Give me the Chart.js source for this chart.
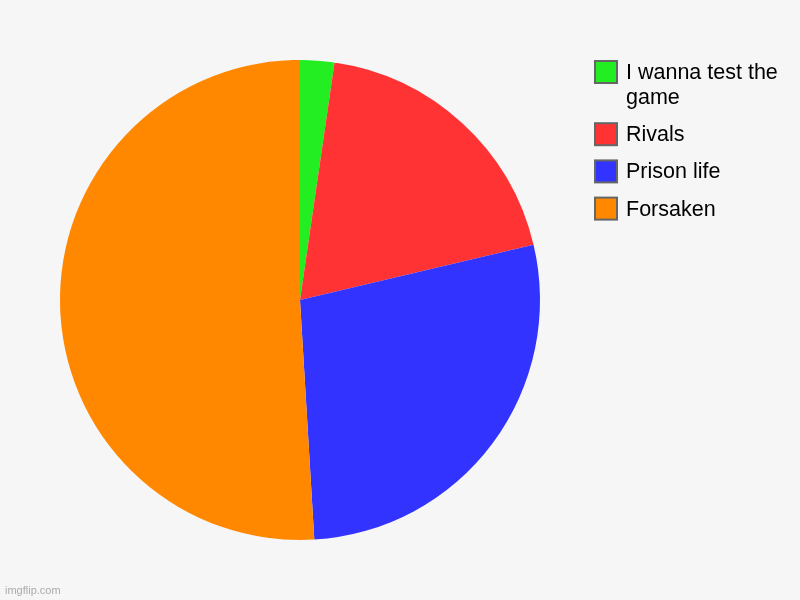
<!DOCTYPE html>
<html>
<head>
<meta charset="utf-8">
<script src="https://cdn.jsdelivr.net/npm/chart.js@4"></script>
<style>
  html, body { margin: 0; padding: 0; background: #f6f6f6; }
  #wrap { position: relative; width: 800px; height: 600px; }
</style>
</head>
<body>
<div id="wrap"><canvas id="pieCanvas" width="800" height="600"></canvas></div>
<script>
// chart data
const labels = [['I wanna test the', 'game'], 'Rivals', 'Prison life', 'Forsaken'];
const values = [2.3, 19, 27.75, 50.95];
const colors = ['#22ee22', '#ff3333', '#3333ff', '#ff8800'];

// draws the legend on the right side and the watermark
const sideLegend = {
    id: 'sideLegend',
    afterDraw(chart) {
        const ctx = chart.ctx;
        ctx.save();
        ctx.font = '21.5px "Liberation Sans", Arial, sans-serif';
        ctx.textBaseline = 'middle';
        let y = 72;
        labels.forEach(function(lbl, i) {
            const lines = Array.isArray(lbl) ? lbl : [lbl];
            ctx.fillStyle = colors[i];
            ctx.fillRect(595, y - 11, 22, 22);
            ctx.strokeStyle = '#666666';
            ctx.lineWidth = 2;
            ctx.strokeRect(595, y - 11, 22, 22);
            ctx.fillStyle = '#000000';
            lines.forEach(function(line, j) {
                ctx.fillText(line, 626, y + 1 + j * 25);
            });
            y += (lines.length - 1) * 25 + 37.2;
        });
        ctx.font = '11px "Liberation Sans", Arial, sans-serif';
        ctx.fillStyle = '#aaaaaa';
        ctx.textBaseline = 'alphabetic';
        ctx.fillText('imgflip.com', 5, 594);
        ctx.restore();
    }
};

const ctx = document.getElementById('pieCanvas').getContext('2d');
new Chart(ctx, {
    type: 'pie',
    data: {
        labels: labels,
        datasets: [{
            data: values,
            backgroundColor: colors,
            borderWidth: 0
        }]
    },
    options: {
        responsive: false,
        animation: false,
        layout: {
            padding: { left: 60, right: 260, top: 60, bottom: 60 }
        },
        plugins: {
            legend: { display: false },
            tooltip: { enabled: false }
        }
    },
    plugins: [sideLegend]
});
</script>
</body>
</html>
